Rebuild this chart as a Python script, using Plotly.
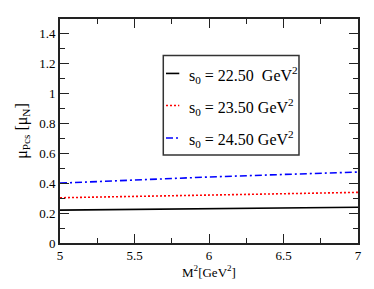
import plotly.graph_objects as go

M2 = [5.0, 5.5, 6.0, 6.5, 7.0]
mu_s22 = [0.220, 0.225, 0.230, 0.235, 0.239]
mu_s23 = [0.303, 0.312, 0.321, 0.330, 0.339]
mu_s24 = [0.401, 0.422, 0.442, 0.459, 0.475]
labels = ["s<sub>0</sub> = 22.50&nbsp; GeV<sup>2</sup>",
          "s<sub>0</sub> = 23.50 GeV<sup>2</sup>",
          "s<sub>0</sub> = 24.50 GeV<sup>2</sup>"]
colors = ["black", "red", "blue"]
dashes = ["solid", "2px,2px", "7px,3px,2px,3px"]

font = "Liberation Serif"

fig = go.Figure()
for i, ys in enumerate([mu_s22, mu_s23, mu_s24]):
    fig.add_trace(go.Scatter(x=M2, y=ys, mode="lines", name=labels[i],
                             line=dict(color=colors[i], width=1.6, dash=dashes[i]),
                             showlegend=False))

# hand-drawn legend (paper coordinates)
leg_x0, leg_x1, leg_y0, leg_y1 = 0.3466, 0.802, 0.393, 0.837
fig.add_shape(type="rect", xref="paper", yref="paper", x0=leg_x0, x1=leg_x1,
              y0=leg_y0, y1=leg_y1, line=dict(color="#333333", width=1.5),
              fillcolor="white", layer="above")
row_y = [0.757, 0.614, 0.469]
for i in range(3):
    fig.add_shape(type="line", xref="paper", yref="paper", x0=0.3557, x1=0.4003,
                  y0=row_y[i], y1=row_y[i],
                  line=dict(color=colors[i], width=1.6, dash=dashes[i]), layer="above")
    fig.add_annotation(xref="paper", yref="paper", x=0.4252, y=row_y[i] - 0.005,
                       xanchor="left", yanchor="middle", text=labels[i], showarrow=False,
                       font=dict(family=font, size=16, color="black"))

axis_common = dict(showline=True, linecolor="#222222", linewidth=1.6, mirror="ticks",
                   ticks="inside", ticklen=9, tickwidth=1.2, tickcolor="#222222",
                   showgrid=False, zeroline=False,
                   tickfont=dict(family=font, size=13, color="black"))
fig.update_xaxes(range=[5, 7], dtick=0.5, tick0=5,
                 minor=dict(ticks="inside", ticklen=5, dtick=0.25, tickcolor="#222222", tickwidth=1.2),
                 title=dict(text="M<sup>2</sup>[GeV<sup>2</sup>]", font=dict(family=font, size=13, color="black"), standoff=4),
                 **axis_common)
fig.update_yaxes(range=[0, 1.5], dtick=0.2, tick0=0,
                 minor=dict(ticks="inside", ticklen=5, dtick=0.1, tickcolor="#222222", tickwidth=1.2),
                 title=dict(text="μ<sub>Pcs</sub> [μ<sub>N</sub>]", font=dict(family=font, size=16, color="black"), standoff=8),
                 **axis_common)
# page body has an 8px default margin, so the figure is sized to fit the window
fig.update_layout(width=366, height=281, margin=dict(l=52, r=16, t=11, b=46, autoexpand=False),
                  plot_bgcolor="white", paper_bgcolor="white", showlegend=False)
fig.write_html("out.html")
